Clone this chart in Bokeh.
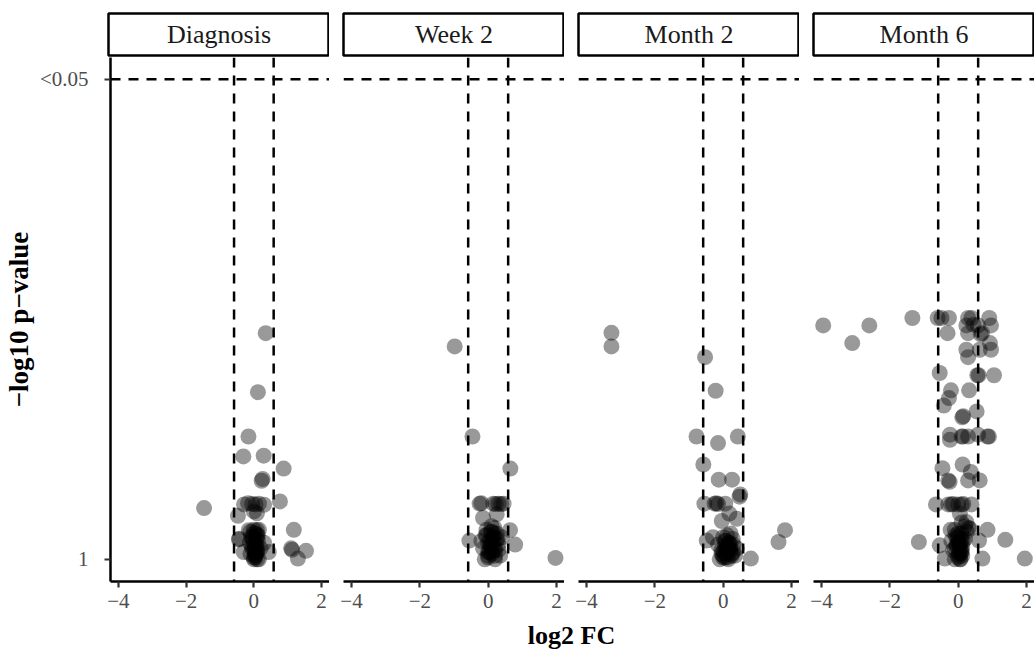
from bokeh.plotting import figure
from bokeh.models import Range1d, FixedTicker, Span, Label, ColumnDataSource
from bokeh.layouts import column, row
from bokeh.embed import file_html
from bokeh.resources import INLINE

# ---------------- data (log2 fold change, -log10 p-value) ----------------
panels = ["Diagnosis", "Week 2", "Month 2", "Month 6"]

diag_fc = [0.35, 0.12, -0.16, -0.31, 0.29, 0.88, 0.23, 0.26, -1.47,
           -0.29, -0.17, -0.05, 0.05, 0.15, 0.30, 0.77,
           -0.47, 0.09, 0.0, 1.18, -0.15, 0.09, -0.44, -0.43, 0.44,
           1.13, 1.10, 1.54, 1.30,
           0.0, 0.05, 0.1, -0.05, 0.02, 0.12, -0.08, 0.06, 0.0, 0.15,
           -0.1, 0.08, -0.02, 0.2, 0.03, -0.12, 0.1, 0.04, 0.3, -0.3,
           0.0, 0.05, 0.1, -0.05, 0.0, 0.08, 0.12, -0.1, 0.03, 0.06,
           0.0, 0.1, -0.04, 0.07, 0.02, 0.15]
diag_nlp = [0.613, 0.453, 0.333, 0.279, 0.281, 0.246, 0.213, 0.218, 0.139,
            0.149, 0.152, 0.150, 0.149, 0.151, 0.148, 0.157,
            0.118, 0.125, 0.130, 0.080, 0.079, 0.079, 0.054, 0.056, 0.020,
            0.026, 0.030, 0.023, 0.002,
            0.0, 0.01, 0.02, 0.03, 0.04, 0.05, 0.06, 0.07, 0.08, 0.0,
            0.015, 0.035, 0.055, 0.03, 0.02, 0.045, 0.065, 0.005, 0.045, 0.02,
            0.005, 0.015, 0.025, 0.035, 0.045, 0.055, 0.065, 0.075, 0.01, 0.04,
            0.07, 0.0, 0.06, 0.02, 0.03, 0.08]

week2_fc = [-0.98, -0.46, 0.65,
            -0.25, -0.2, 0.15, 0.22, 0.3, 0.38, 0.45,
            -0.15, 0.25, 0.64, -0.55, 0.79, 1.97,
            -0.1, 0.0, 0.1, 0.2, 0.3, 0.05, 0.15, 0.25, -0.05, 0.1, 0.35,
            -0.15, 0.0, 0.2, 0.12, 0.28, -0.08, 0.08, 0.4, 0.18, -0.2, 0.02,
            0.0, 0.1, 0.2, 0.05, 0.15, 0.25, -0.05, 0.1, 0.0, 0.2, 0.3, 0.12,
            0.08, 0.18]
week2_nlp = [0.577, 0.333, 0.246,
             0.151, 0.152, 0.151, 0.150, 0.151, 0.150, 0.151,
             0.112, 0.122, 0.079, 0.051, 0.040, 0.004,
             0.0, 0.01, 0.02, 0.03, 0.04, 0.05, 0.06, 0.07, 0.08, 0.09, 0.01,
             0.03, 0.045, 0.0, 0.035, 0.055, 0.065, 0.075, 0.06, 0.085, 0.05, 0.02,
             0.005, 0.015, 0.025, 0.035, 0.045, 0.055, 0.065, 0.075, 0.02, 0.01,
             0.025, 0.06, 0.04, 0.07]

month2_fc = [-3.27, -3.27, -0.53, -0.22, -0.78, -0.15, 0.43, -0.58, -0.13, 0.26,
             0.5, 0.48, -0.55, -0.25, -0.2, -0.15, 0.06, -0.04, 0.4, 0.18,
             1.81, 1.62, -0.48, 0.81,
             -0.1, 0.0, 0.1, 0.2, 0.3, 0.05, 0.15, 0.25, -0.05, 0.08,
             0.18, 0.28, -0.15, 0.0, 0.12, 0.35, 0.22, -0.3, 0.4, 0.05,
             0.0, 0.1, 0.2, 0.05, 0.15, 0.25, 0.1, 0.0, 0.2, 0.3, 0.12,
             0.08, -0.05, 0.18]
month2_nlp = [0.614, 0.577, 0.548, 0.457, 0.333, 0.315, 0.333, 0.257, 0.216, 0.216,
              0.176, 0.170, 0.151, 0.151, 0.152, 0.150, 0.151, 0.104, 0.110, 0.124,
              0.079, 0.047, 0.051, 0.002,
              0.0, 0.01, 0.02, 0.03, 0.04, 0.05, 0.0, 0.015, 0.025, 0.035,
              0.045, 0.055, 0.04, 0.06, 0.065, 0.01, 0.07, 0.06, 0.03, 0.005,
              0.005, 0.015, 0.025, 0.035, 0.045, 0.01, 0.03, 0.02, 0.04, 0.02,
              0.005, 0.05, 0.015, 0.025]

month6_fc = [-3.95, -2.6, -3.1, -1.34, -0.6, -0.49, -0.27, -0.31, 0.29, 0.39,
             0.91, 0.24, 0.45, 0.58, 0.96, 0.29, 0.7, 0.66, 0.93, 0.24,
             0.63, 0.96, 0.29,
             -0.54, 0.56, 0.6, 1.05,
             -0.21, 0.32, -0.27, -0.42, 0.54, 0.15, 0.12,
             -0.24, -0.24, 0.1, 0.14, 0.29, 0.58, 0.86, 0.9,
             -0.46, 0.13, -0.29, -0.25, 0.37, 0.29, 0.63,
             -0.65, -0.29, -0.2, -0.15, 0.0, 0.1, 0.15, 0.39,
             0.05, 0.24, 0.34, 0.3, -0.22, 0.86, -1.15, -0.54, 0.61, 1.38,
             1.95, 0.71, -0.39,
             -0.1, 0.0, 0.1, 0.05, -0.05, 0.15, 0.0, 0.1, -0.1, 0.2,
             0.05, -0.15, 0.12, 0.02, 0.2, -0.08, 0.08, 0.25, -0.2, 0.1,
             0.0, 0.05, 0.1, -0.05, 0.0, 0.08, 0.12, -0.1, 0.03, 0.06,
             0.0, 0.1, -0.04, 0.07]
month6_nlp = [0.634, 0.634, 0.586, 0.654, 0.654, 0.654, 0.654, 0.613, 0.654, 0.654,
              0.654, 0.634, 0.636, 0.634, 0.634, 0.613, 0.613, 0.610, 0.586, 0.568,
              0.568, 0.568, 0.548,
              0.505, 0.499, 0.499, 0.499,
              0.458, 0.458, 0.437, 0.417, 0.401, 0.388, 0.385,
              0.338, 0.324, 0.333, 0.333, 0.333, 0.338, 0.333, 0.333,
              0.247, 0.257, 0.214, 0.210, 0.237, 0.214, 0.214,
              0.149, 0.149, 0.149, 0.150, 0.149, 0.149, 0.150, 0.149,
              0.124, 0.101, 0.083, 0.085, 0.080, 0.080, 0.047, 0.038, 0.051, 0.053,
              0.002, 0.002, 0.002,
              0.0, 0.01, 0.02, 0.03, 0.04, 0.05, 0.06, 0.07, 0.08, 0.09,
              0.0, 0.025, 0.035, 0.045, 0.055, 0.065, 0.015, 0.075, 0.05, 0.1,
              0.005, 0.015, 0.025, 0.035, 0.045, 0.055, 0.01, 0.03, 0.02, 0.04,
              0.07, 0.05, 0.06, 0.0]

panel_fc = [diag_fc, week2_fc, month2_fc, month6_fc]
panel_nlp = [diag_nlp, week2_nlp, month2_nlp, month6_nlp]

x_ticks = [-4, -2, 0, 2]
x_tick_labels = {-4: "\u22124", -2: "\u22122", 0: "0", 2: "2"}
fc_cut = 0.585          # log2(1.5)
p_cut = 1.30103         # -log10(0.05)
y_tick_labels = {0: "1", p_cut: "<0.05"}

FONT = "Liberation Serif"
FRAME_W = 221
FRAME_H = 524
GAP = 14
LEFT0 = 108
BOTTOM = 38
DASH = "10 8"
DASH_W = 2.5

strip_figs = []
panel_figs = []
for i, name in enumerate(panels):
    first = (i == 0)
    left = LEFT0 if first else GAP
    w = left + FRAME_W

    s = figure(width=w, height=57, min_border_left=left, min_border_right=0,
               min_border_top=13, min_border_bottom=2,
               x_range=Range1d(0, 1), y_range=Range1d(0, 1),
               toolbar_location=None, output_backend="svg",
               x_axis_location=None, y_axis_location=None)
    s.xgrid.visible = False
    s.ygrid.visible = False
    s.outline_line_color = "black"
    s.outline_line_width = 2.5
    s.background_fill_color = "white"
    s.border_fill_color = "white"
    s.add_layout(Label(x=0.5, y=0.5, text=name, text_align="center",
                       text_baseline="middle", text_font=FONT,
                       text_font_size="26px", text_color="#1A1A1A"))
    strip_figs.append(s)

    p = figure(width=w, height=FRAME_H + BOTTOM, min_border_left=left, min_border_right=0,
               min_border_top=0, min_border_bottom=BOTTOM,
               x_range=Range1d(-4.234, 2.234), y_range=Range1d(-0.06, 1.36),
               toolbar_location=None, output_backend="svg",
               y_axis_location="left" if first else None)
    p.xgrid.visible = False
    p.ygrid.visible = False
    p.outline_line_color = None
    p.background_fill_color = "white"
    p.border_fill_color = "white"

    src = ColumnDataSource(dict(fc=panel_fc[i], nlp=panel_nlp[i]))
    p.scatter("fc", "nlp", source=src, size=16, fill_color="black",
              fill_alpha=0.4, line_color=None)

    for loc in (-fc_cut, fc_cut):
        p.add_layout(Span(location=loc, dimension="height", line_color="black",
                          line_width=DASH_W, line_dash=DASH))
    p.add_layout(Span(location=p_cut, dimension="width", line_color="black",
                      line_width=DASH_W, line_dash=DASH))

    xa = p.xaxis[0]
    xa.ticker = FixedTicker(ticks=x_ticks)
    xa.major_label_overrides = x_tick_labels
    xa.axis_line_color = "black"
    xa.axis_line_width = 2.5
    xa.major_tick_line_color = "#333333"
    xa.major_tick_line_width = 2.2
    xa.major_tick_out = 6
    xa.major_tick_in = 0
    xa.minor_tick_line_color = None
    xa.major_label_text_font = FONT
    xa.major_label_text_font_size = "21px"
    xa.major_label_text_color = "#4D4D4D"
    xa.major_label_standoff = 6

    if first:
        ya = p.yaxis[0]
        ya.ticker = FixedTicker(ticks=[0, p_cut])
        ya.major_label_overrides = y_tick_labels
        ya.axis_line_color = "black"
        ya.axis_line_width = 2.5
        ya.major_tick_line_color = "#333333"
        ya.major_tick_line_width = 2.2
        ya.major_tick_out = 6
        ya.major_tick_in = 0
        ya.minor_tick_line_color = None
        ya.major_label_text_font = FONT
        ya.major_label_text_font_size = "21px"
        ya.major_label_text_color = "#4D4D4D"
        ya.major_label_standoff = 16
        ya.axis_label = "\u2212log10 p\u2212value"
        ya.axis_label_text_font = FONT
        ya.axis_label_text_font_style = "bold"
        ya.axis_label_text_font_size = "27px"
        ya.axis_label_text_color = "black"
        ya.axis_label_standoff = 3
    panel_figs.append(p)

total_w = LEFT0 + 4 * FRAME_W + 3 * GAP
title_h = 655 - 57 - (FRAME_H + BOTTOM)
t = figure(width=total_w, height=title_h, x_range=Range1d(0, total_w),
           y_range=Range1d(0, title_h),
           toolbar_location=None, output_backend="svg",
           x_axis_location=None, y_axis_location=None,
           min_border_left=0, min_border_right=0, min_border_top=0, min_border_bottom=0)
t.xgrid.visible = False
t.ygrid.visible = False
t.outline_line_color = None
t.add_layout(Label(x=(LEFT0 + total_w) / 2, y=title_h - 16, text="log2 FC",
                   text_align="center", text_baseline="middle", text_font=FONT,
                   text_font_size="26px", text_font_style="bold", text_color="black"))

layout = column(row(*strip_figs), row(*panel_figs), t)
open("out.html", "w").write(file_html(layout, INLINE))
